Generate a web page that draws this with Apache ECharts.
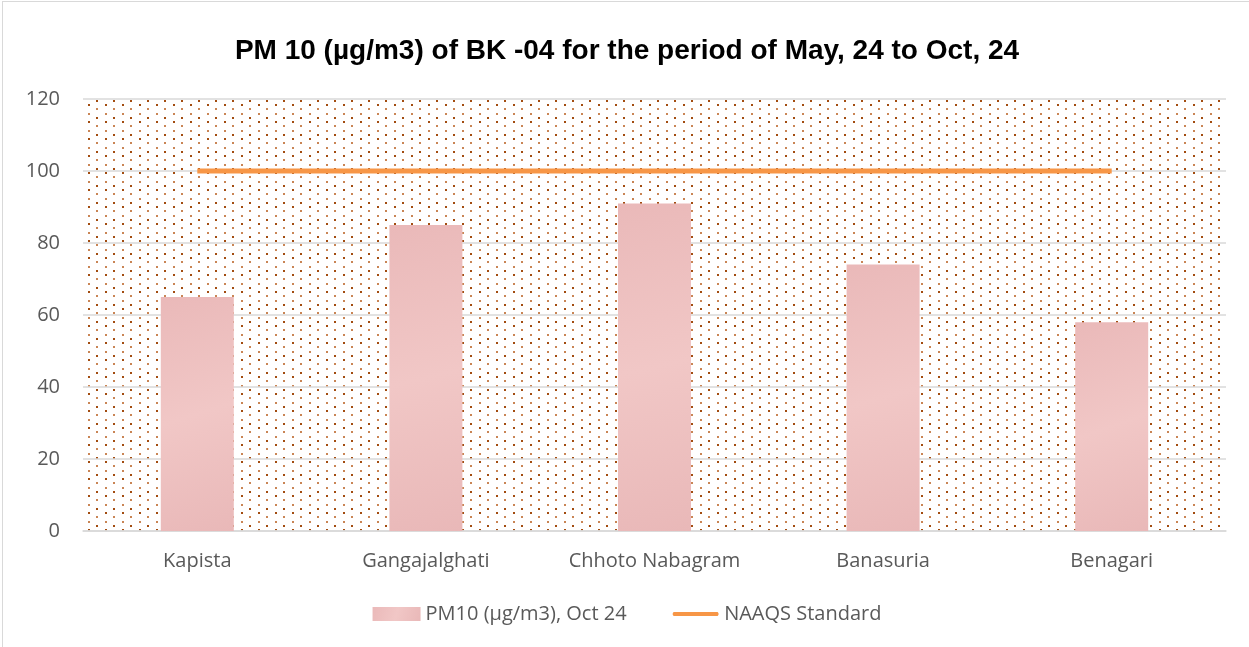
<!DOCTYPE html>
<html>
<head>
<meta charset="utf-8">
<script src="https://cdn.jsdelivr.net/npm/echarts@6/dist/echarts.min.js"></script>
<style>
  html, body { margin: 0; padding: 0; background: #fff; overflow: hidden; }
  #chart {
    width: 1249px;
    height: 647px;
    box-sizing: border-box;
    border: 1px solid #d9d9d9;
    border-right: none;
    border-bottom: none;
    margin: 1px 0 0 2px;
  }
</style>
</head>
<body>
<div id="chart"></div>
<script>
// chart data
const categories = ['Kapista', 'Gangajalghati', 'Chhoto Nabagram', 'Banasuria', 'Benagari']
const pm10Values = [65, 85, 91, 74, 58]
const naaqsValues = [100, 100, 100, 100, 100]
const yTicks = { min: 0, max: 120, interval: 20 }

// dotted background like the Excel pattern fill
const makeDots = () => {
  const c = document.createElement('canvas')
  c.width = 17
  c.height = 17
  const ctx = c.getContext('2d')
  const dark = '#a24c10'
  const light = '#c98555'
  ctx.fillStyle = dark
  ctx.fillRect(0, 0, 2, 2)
  ctx.fillRect(8, 13, 2, 2)
  ctx.fillStyle = light
  ctx.fillRect(0, 9, 2, 2)
  ctx.fillRect(8, 4, 2, 2)
  return c
}

const chartInstance = echarts.init(document.getElementById('chart'))

const option = {
  animation: false,
  title: {
    text: 'PM 10 (µg/m3) of BK -04 for the period of May, 24 to Oct, 24',
    left: 'center',
    top: 30,
    textStyle: {
      fontFamily: 'Liberation Sans',
      fontWeight: 'bold',
      fontSize: 28,
      color: '#000'
    }
  },
  legend: {
    bottom: 19,
    left: 'center',
    itemGap: 45,
    itemWidth: 48,
    itemHeight: 14,
    textStyle: {
      fontFamily: 'Open Sans',
      fontSize: 20,
      color: '#595959'
    },
    data: [
      { name: 'PM10 (µg/m3), Oct 24', icon: 'rect' },
      { name: 'NAAQS Standard', icon: 'path://M0,0 M0,14 M2,5 L46,5 Q48,7 46,9 L2,9 Q0,7 2,5 Z' }
    ]
  },
  grid: {
    left: 80,
    right: 25,
    top: 97,
    bottom: 117,
    show: true,
    borderWidth: 0,
    backgroundColor: { image: makeDots(), repeat: 'repeat' }
  },
  xAxis: {
    type: 'category',
    data: categories,
    axisTick: { show: false },
    axisLine: { lineStyle: { color: '#d9d9d9', width: 1.5 } },
    axisLabel: {
      margin: 20,
      fontFamily: 'Open Sans',
      fontSize: 20,
      color: '#595959'
    }
  },
  yAxis: {
    type: 'value',
    min: yTicks.min,
    max: yTicks.max,
    interval: yTicks.interval,
    axisLine: { show: false },
    axisTick: { show: false },
    axisLabel: {
      margin: 23,
      fontFamily: 'Open Sans',
      fontSize: 20,
      color: '#595959'
    },
    splitLine: { lineStyle: { color: '#d9d9d9', width: 1.5 } }
  },
  series: [
    {
      name: 'PM10 (µg/m3), Oct 24',
      type: 'bar',
      data: pm10Values,
      barWidth: 73,
      itemStyle: {
        color: {
          type: 'linear', x: 0, y: 0, x2: 1, y2: 1,
          colorStops: [
            { offset: 0, color: '#eab9b9' },
            { offset: 0.5, color: '#f1c7c6' },
            { offset: 1, color: '#e9b8b8' }
          ]
        }
      }
    },
    {
      name: 'NAAQS Standard',
      type: 'line',
      data: naaqsValues,
      symbol: 'none',
      lineStyle: { color: '#f79646', width: 5 },
      itemStyle: { color: '#f79646' }
    }
  ]
}

chartInstance.setOption(option)
</script>
</body>
</html>
